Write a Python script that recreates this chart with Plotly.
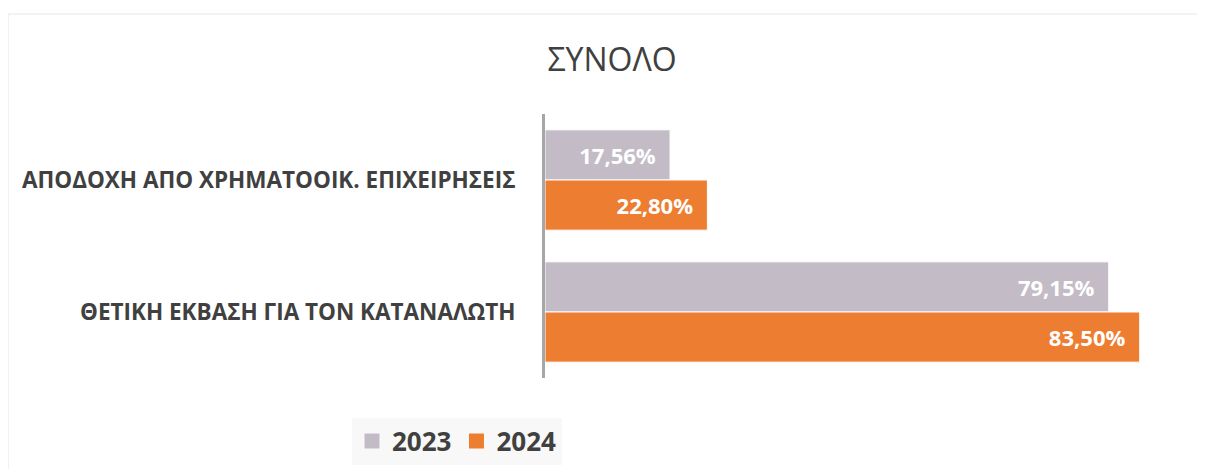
import plotly.graph_objects as go

categories = ["ΑΠΟΔΟΧΗ ΑΠΟ ΧΡΗΜΑΤΟΟΙΚ. ΕΠΙΧΕΙΡΗΣΕΙΣ", "ΘΕΤΙΚΗ ΕΚΒΑΣΗ ΓΙΑ ΤΟΝ ΚΑΤΑΝΑΛΩΤΗ"]
values_2023 = [17.56, 79.15]
values_2024 = [22.80, 83.50]
series_names = ["2023", "2024"]
colors = ["#C3BCC6", "#ED7D31"]

def fmt(v):
    return f"{v:.2f}".replace(".", ",") + "%\u00a0\u00a0"

OFF = 8  # page body margin
W, H = 1205 - OFF, 469 - OFF
L = 545 - OFF
T = 114 - OFF
plot_bottom = 378 - OFF
plot_right = 1186 - OFF
R = W - plot_right
B = H - plot_bottom
pw = plot_right - L
ph = plot_bottom - T

fig = go.Figure()
for name, vals, col in zip(series_names, [values_2023, values_2024], colors):
    fig.add_trace(go.Bar(
        y=categories, x=vals, name=name, orientation="h", showlegend=False,
        marker=dict(color=col, line=dict(color="white", width=1)),
        text=[fmt(v) for v in vals], textposition="inside", insidetextanchor="end",
        textfont=dict(color="white", size=22, family="Open Sans", weight="bold"),
        cliponaxis=False,
    ))
for name, col in zip(series_names, colors):
    fig.add_trace(go.Scatter(
        x=[None], y=[None], mode="markers", name=name,
        marker=dict(symbol="square", size=15, color=col),
    ))

fig.update_layout(
    width=W, height=H,
    margin=dict(l=L, r=R, t=T, b=B, autoexpand=False),
    paper_bgcolor="white", plot_bgcolor="white",
    barmode="group", bargap=0.24, bargroupgap=0,
    title=dict(text="ΣΥΝΟΛΟ", x=(612 - OFF) / W, xanchor="center", y=1 - (60 - OFF) / H, yanchor="middle",
               font=dict(size=32, color="#404040", family="Open Sans")),
    xaxis=dict(range=[0, 90], visible=False, fixedrange=True),
    yaxis=dict(autorange="reversed", showline=True, linecolor="#A6A6A6", linewidth=3,
               showgrid=False, ticks="", ticklabelstandoff=22,
               tickfont=dict(size=22.5, color="#404040", family="Open Sans", weight="bold")),
    legend=dict(orientation="h", x=(457 - OFF - L) / pw, xanchor="center",
                y=(plot_bottom - (441 - OFF)) / ph, yanchor="middle",
                bgcolor="#F8F8F8", font=dict(size=26, color="#404040", family="Open Sans", weight="bold"),
                itemsizing="trace", traceorder="normal"),
    showlegend=True,
    shapes=[dict(type="rect", xref="paper", yref="paper",
                 x0=(0 - L) / pw, x1=(W + 40 - L) / pw,
                 y0=(plot_bottom - (H + 40)) / ph, y1=(plot_bottom - (14 - OFF)) / ph,
                 line=dict(color="#E6E6E6", width=1), layer="below")],
)

fig.write_html("out.html")
